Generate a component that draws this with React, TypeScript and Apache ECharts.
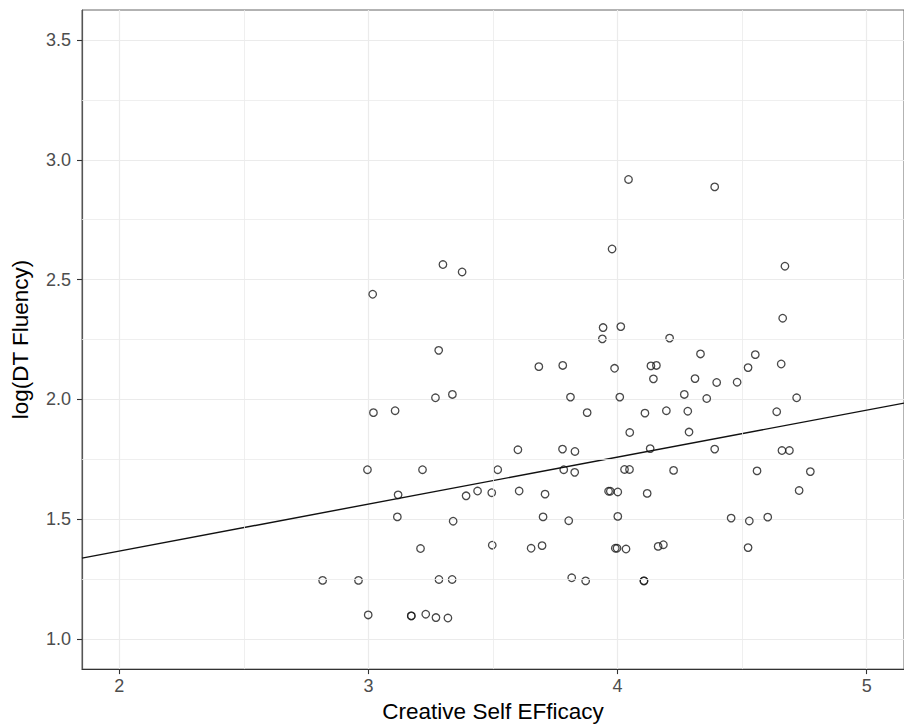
import React, { useEffect, useRef } from "react";
import * as echarts from "echarts";

const efficacy = [
  4.044, 4.39, 3.978, 4.672, 3.299, 3.376, 3.017, 4.663, 3.942, 4.013,
  3.939, 4.209, 3.282, 4.333, 4.553, 3.684, 3.78, 3.988, 4.134, 4.156,
  4.657, 4.524, 4.144, 4.311, 4.398, 4.48, 3.811, 4.009, 4.268, 4.358,
  4.719, 3.269, 3.337, 3.02, 3.107, 3.878, 4.11, 4.196, 4.282, 4.639,
  4.049, 4.287, 3.6, 3.779, 3.829, 4.131, 4.39, 4.66, 4.69, 2.996,
  3.217, 3.519, 3.784, 3.828, 4.028, 4.048, 4.225, 4.56, 4.774, 3.119,
  3.392, 3.438, 3.495, 3.605, 3.709, 3.964, 3.971, 4.001, 4.119, 4.729,
  3.116, 3.34, 3.701, 3.804, 4.001, 4.456, 4.529, 4.603, 3.209, 3.497,
  3.653, 3.697, 3.991, 3.998, 4.034, 4.163, 4.184, 4.524, 2.816, 2.96,
  3.283, 3.336, 3.816, 3.872, 4.106, 4.106, 2.999, 3.172, 3.172, 3.23,
  3.271, 3.319,
];

const fluency = [
  2.918, 2.887, 2.628, 2.556, 2.563, 2.532, 2.439, 2.339, 2.3, 2.304,
  2.253, 2.256, 2.205, 2.19, 2.187, 2.137, 2.142, 2.13, 2.14, 2.142,
  2.148, 2.133, 2.086, 2.087, 2.071, 2.072, 2.01, 2.01, 2.021, 2.004,
  2.007, 2.007, 2.021, 1.945, 1.953, 1.945, 1.943, 1.953, 1.951, 1.949,
  1.862, 1.864, 1.79, 1.793, 1.783, 1.795, 1.793, 1.787, 1.787, 1.707,
  1.707, 1.707, 1.707, 1.696, 1.708, 1.708, 1.704, 1.702, 1.699, 1.602,
  1.598, 1.618, 1.611, 1.618, 1.605, 1.617, 1.617, 1.614, 1.608, 1.62,
  1.51, 1.492, 1.51, 1.494, 1.512, 1.505, 1.493, 1.509, 1.378, 1.392,
  1.379, 1.39, 1.379, 1.379, 1.376, 1.387, 1.394, 1.382, 1.245, 1.245,
  1.249, 1.249, 1.256, 1.243, 1.243, 1.243, 1.101, 1.097, 1.097, 1.104,
  1.09, 1.088,
];

const fitX = [1.85, 5.15];
const fitY = [1.338, 1.985];

const xTicks = [2, 3, 4, 5];
const yTicks = [1.0, 1.5, 2.0, 2.5, 3.0, 3.5];
const xMinor = [2.5, 3.5, 4.5];
const yMinor = [1.25, 1.75, 2.25, 2.75, 3.25];

const xRange = [1.85, 5.15];
const yRange = [0.875, 3.625];

const FONT = "'Liberation Sans', Arial, Helvetica, sans-serif";

export default function App() {
  const ref = useRef<HTMLDivElement>(null);

  useEffect(() => {
    document.body.style.margin = "0";
    if (!ref.current) return;
    const chart = echarts.init(ref.current, null, { renderer: "svg" });

    const points = efficacy.map((x, i) => [x, fluency[i]]);
    const fitLine = fitX.map((x, i) => [x, fitY[i]]);

    const minorLines = [
      ...xMinor.map((v) => ({ xAxis: v })),
      ...yMinor.map((v) => ({ yAxis: v })),
    ];

    chart.setOption({
      animation: false,
      backgroundColor: "#ffffff",
      textStyle: { fontFamily: FONT },
      grid: {
        left: 82,
        right: -10,
        top: 10,
        bottom: 56,
        show: true,
        borderColor: "#666666",
        borderWidth: 1,
        backgroundColor: "#ffffff",
      },
      xAxis: {
        type: "value",
        min: xRange[0],
        max: xRange[1],
        name: "Creative Self EFficacy",
        nameLocation: "middle",
        nameGap: 30,
        nameTextStyle: { fontSize: 22.5, color: "#000000", fontFamily: FONT },
        axisLine: { show: true, onZero: false, lineStyle: { color: "#333333", width: 1.2 } },
        axisTick: {
          show: true,
          length: 5,
          customValues: xTicks,
          lineStyle: { color: "#333333", width: 1.1 },
        },
        axisLabel: {
          customValues: xTicks,
          margin: 8,
          fontSize: 18,
          color: "#4d4d4d",
          fontFamily: FONT,
          formatter: (v: number) => String(v),
        },
        splitLine: { show: true, lineStyle: { color: "#ebebeb", width: 1.2 } },
        minorTick: { show: false },
        minorSplitLine: { show: false },
      },
      yAxis: {
        type: "value",
        min: yRange[0],
        max: yRange[1],
        name: "log(DT Fluency)",
        nameLocation: "middle",
        nameGap: 50,
        nameRotate: 90,
        nameTextStyle: { fontSize: 22.5, color: "#000000", fontFamily: FONT },
        axisLine: { show: true, onZero: false, lineStyle: { color: "#555555", width: 1.2 } },
        axisTick: {
          show: true,
          length: 5,
          customValues: yTicks,
          lineStyle: { color: "#333333", width: 1.1 },
        },
        axisLabel: {
          customValues: yTicks,
          margin: 11,
          fontSize: 18,
          color: "#4d4d4d",
          fontFamily: FONT,
          formatter: (v: number) => v.toFixed(1),
        },
        splitLine: { show: true, lineStyle: { color: "#ebebeb", width: 1.2 } },
        minorTick: { show: false },
        minorSplitLine: { show: false },
      },
      series: [
        {
          type: "scatter",
          data: [],
          silent: true,
          z: 1,
          markLine: {
            silent: true,
            symbol: ["none", "none"],
            label: { show: false },
            lineStyle: { color: "#ebebeb", width: 0.8, type: "solid" },
            emphasis: { disabled: true },
            data: minorLines,
          },
        },
        {
          type: "scatter",
          data: points,
          symbol: "circle",
          symbolSize: 7.5,
          z: 3,
          itemStyle: {
            color: "rgba(255,255,255,0)",
            borderColor: "#1a1a1a",
            borderWidth: 1.3,
          },
        },
        {
          type: "line",
          data: fitLine,
          showSymbol: false,
          symbol: "none",
          z: 4,
          lineStyle: { color: "#111111", width: 1.4 },
        },
      ],
    });

    return () => {
      chart.dispose();
    };
  }, []);

  return (
    <div
      ref={ref}
      style={{ position: "absolute", left: 0, top: 0, width: 904, height: 728 }}
    />
  );
}
